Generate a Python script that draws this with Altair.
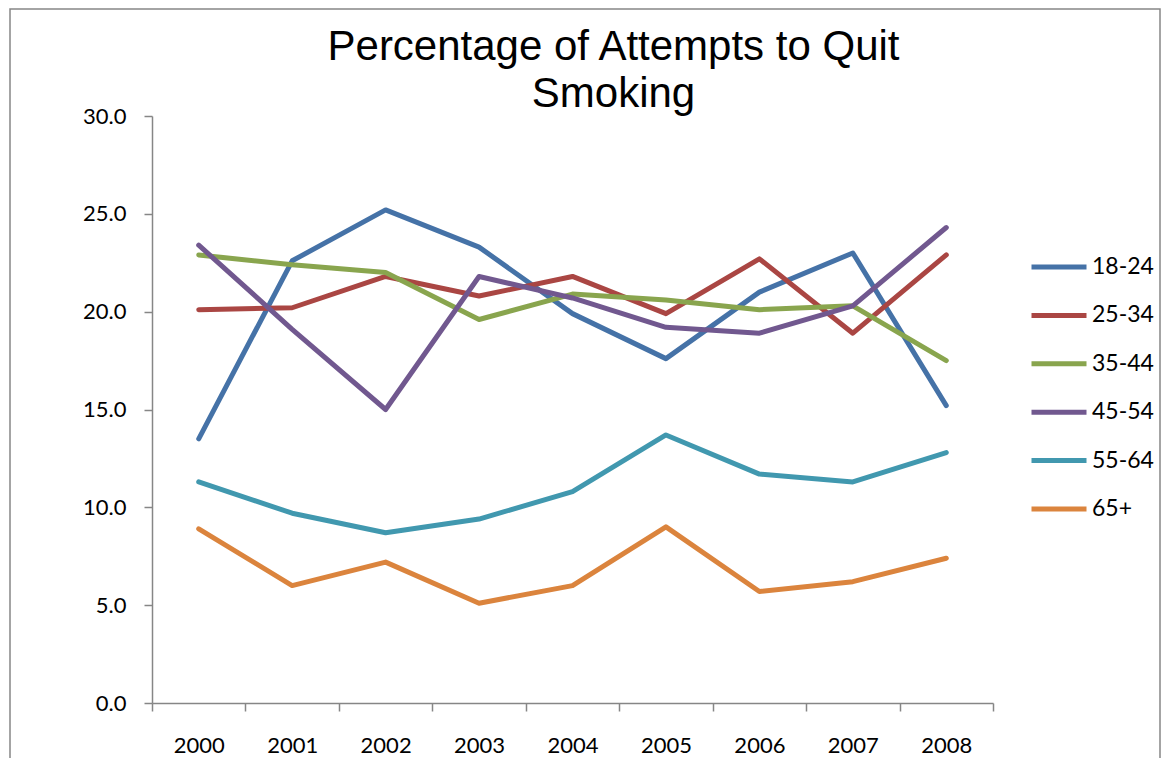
import altair as alt
import pandas as pd

years = ["2000", "2001", "2002", "2003", "2004", "2005", "2006", "2007", "2008"]
groups = ["18-24", "25-34", "35-44", "45-54", "55-64", "65+"]
s_18_24 = [13.5, 22.6, 25.2, 23.3, 19.9, 17.6, 21.0, 23.0, 15.2]
s_25_34 = [20.1, 20.2, 21.8, 20.8, 21.8, 19.9, 22.7, 18.9, 22.9]
s_35_44 = [22.9, 22.4, 22.0, 19.6, 20.9, 20.6, 20.1, 20.3, 17.5]
s_45_54 = [23.4, 19.1, 15.0, 21.8, 20.7, 19.2, 18.9, 20.3, 24.3]
s_55_64 = [11.3, 9.7, 8.7, 9.4, 10.8, 13.7, 11.7, 11.3, 12.8]
s_65p = [8.9, 6.0, 7.2, 5.1, 6.0, 9.0, 5.7, 6.2, 7.4]
colors = ["#4572A7", "#AA4643", "#89A54E", "#71588F", "#4198AF", "#DB843D"]
y_ticks = [0, 5, 10, 15, 20, 25, 30]

series = [s_18_24, s_25_34, s_35_44, s_45_54, s_55_64, s_65p]
rows = []
for g, vals in zip(groups, series):
    for yr, v in zip(years, vals):
        rows.append({"year": yr, "group": g, "value": v})
df = pd.DataFrame(rows)

W, H = 841, 587
axis_gray = "#868686"

lines = alt.Chart(df).mark_line(strokeWidth=5, strokeCap="round", strokeJoin="round").encode(
    x=alt.X("year:O", sort=years,
            scale=alt.Scale(type="band", paddingInner=0, paddingOuter=0),
            axis=alt.Axis(title=None, labelAngle=0, tickBand="extent", labelPadding=24)),
    y=alt.Y("value:Q", scale=alt.Scale(domain=[0, 30], nice=False),
            axis=alt.Axis(title=None, values=y_ticks, format=".1f", grid=False, labelPadding=18)),
    color=alt.Color("group:N", sort=groups,
                    scale=alt.Scale(domain=groups, range=colors),
                    legend=alt.Legend(title=None, orient="none", legendX=877, legendY=121,
                                      symbolType="stroke", symbolSize=3025, symbolStrokeWidth=5,
                                      labelFont="Lato", labelFontSize=23, labelOffset=3,
                                      rowPadding=6.4, padding=0, labelColor="#000000")),
)

border = alt.Chart(pd.DataFrame({"k": [0]})).mark_rect(
    fillOpacity=0, stroke=axis_gray, strokeWidth=1.5
).encode(
    x=alt.value(-142), x2=alt.value(1008), y=alt.value(-107), y2=alt.value(680)
)

chart = alt.layer(border, lines).properties(
    width=W, height=H,
    autosize=alt.AutoSizeParams(type="none"),
    padding={"left": 144, "top": 108, "right": 169, "bottom": 55},
    title=alt.TitleParams(
        text=["Percentage of Attempts to Quit", "Smoking"],
        font="Liberation Sans", fontSize=42, fontWeight="normal", color="#000000",
        anchor="middle", dx=41, dy=112, lineHeight=47,
    ),
).configure_view(stroke=None).configure_axis(
    domainColor=axis_gray, domainWidth=1.5, tickColor=axis_gray, tickWidth=1.5, tickSize=8,
    labelFont="Lato", labelFontSize=22, labelColor="#000000",
)

chart.save("out.html", embed_options={"renderer": "svg", "actions": False})
